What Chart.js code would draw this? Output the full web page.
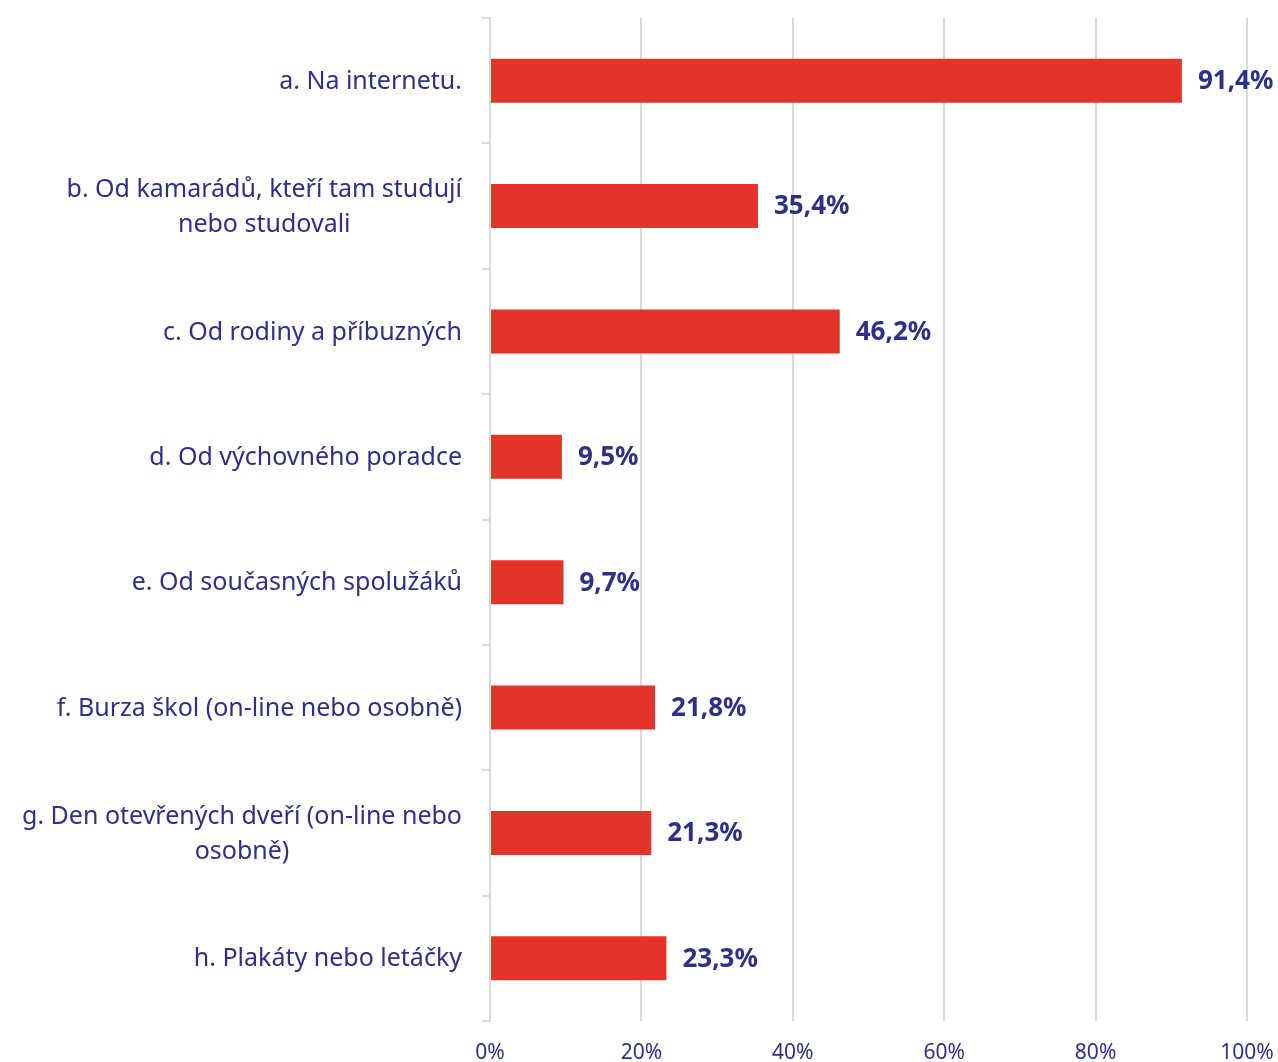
<!DOCTYPE html>
<html>
<head>
<meta charset="utf-8">
<script src="https://cdn.jsdelivr.net/npm/chart.js@4.4.1/dist/chart.umd.min.js"></script>
<style>
  html, body { margin: 0; padding: 0; background: #fff; }
  #wrap { width: 1278px; height: 1062px; }
</style>
</head>
<body>
<div id="wrap"><canvas id="mycanvas"></canvas></div>
<script>
// answers (categories) and share of respondents in %
var categories = [
  ['a. Na internetu.'],
  ['b. Od kamarádů, kteří tam studují', 'nebo studovali'],
  ['c. Od rodiny a příbuzných'],
  ['d. Od výchovného poradce'],
  ['e. Od současných spolužáků'],
  ['f. Burza škol (on-line nebo osobně)'],
  ['g. Den otevřených dveří (on-line nebo', 'osobně)'],
  ['h. Plakáty nebo letáčky']
];
var values = [91.4, 35.4, 46.2, 9.5, 9.7, 21.8, 21.3, 23.3];
var xTicks = [0, 20, 40, 60, 80, 100];

var blue = '#2E3086';
var red = '#E4342A';
var fontName = "'Noto Sans', sans-serif";

function fmt(v){
  return v.toFixed(1).replace('.', ',') + '%';
}

// category labels: block right aligned to the axis, lines centered in the block
var catLabels = {
  id: 'catLabels',
  afterDraw: function(chart){
    var ctx = chart.ctx;
    var yScale = chart.scales.y;
    var right = chart.chartArea.left - 28;
    var lh = 35;
    ctx.save();
    ctx.font = '25px ' + fontName;
    ctx.fillStyle = blue;
    ctx.textBaseline = 'middle';
    ctx.textAlign = 'center';
    for (var i = 0; i < categories.length; i++) {
      var lines = categories[i];
      var w = 0;
      for (var j = 0; j < lines.length; j++) w = Math.max(w, ctx.measureText(lines[j]).width);
      var cx = right - w / 2;
      var cy = yScale.getPixelForValue(i) + 1;
      var y0 = cy - (lines.length - 1) * lh / 2;
      for (var j = 0; j < lines.length; j++) ctx.fillText(lines[j], cx, y0 + j * lh);
    }
    ctx.restore();
  }
};

// value labels at the end of the bars
var valueLabels = {
  id: 'valueLabels',
  afterDatasetsDraw: function(chart){
    var ctx = chart.ctx;
    var meta = chart.getDatasetMeta(0);
    ctx.save();
    ctx.font = 'bold 26px ' + fontName;
    ctx.fillStyle = blue;
    ctx.textBaseline = 'middle';
    ctx.textAlign = 'left';
    meta.data.forEach(function(bar, i){
      ctx.fillText(fmt(values[i]), bar.x + 16, bar.y + 1);
    });
    ctx.restore();
  }
};

var chartdata = {
  labels: categories.map(function(l){ return l.join(' '); }),
  datasets: [{
    data: values,
    backgroundColor: red,
    borderWidth: 0,
    categoryPercentage: 1,
    barPercentage: 0.35
  }]
};

var ctx = document.getElementById('mycanvas');
var barGraph = new Chart(ctx, {
  type: 'bar',
  data: chartdata,
  plugins: [catLabels, valueLabels],
  options: {
    indexAxis: 'y',
    responsive: true,
    maintainAspectRatio: false,
    animation: false,
    layout: { padding: { top: 18, right: 31, left: 0, bottom: 0 } },
    plugins: { legend: { display: false }, tooltip: { enabled: false } },
    scales: {
      x: {
        min: 0,
        max: 100,
        afterBuildTicks: function(scale){
          scale.ticks = xTicks.map(function(v){ return { value: v }; });
        },
        grid: { color: '#D9D9D9', lineWidth: 2, drawTicks: false },
        border: { display: false },
        ticks: {
          color: blue,
          font: { family: fontName, size: 21 },
          padding: 19,
          callback: function(v){ return v + '%'; }
        },
        afterFit: function(scale){
          scale.height = 41;
          scale.paddingLeft = 0;
          scale.paddingRight = 0;
        }
      },
      y: {
        grid: { drawOnChartArea: false, color: '#D9D9D9', lineWidth: 2, tickLength: 8, offset: true },
        border: { color: '#D9D9D9', width: 2 },
        ticks: { display: false },
        afterFit: function(scale){ scale.width = 490; }
      }
    }
  }
});
</script>
</body>
</html>
